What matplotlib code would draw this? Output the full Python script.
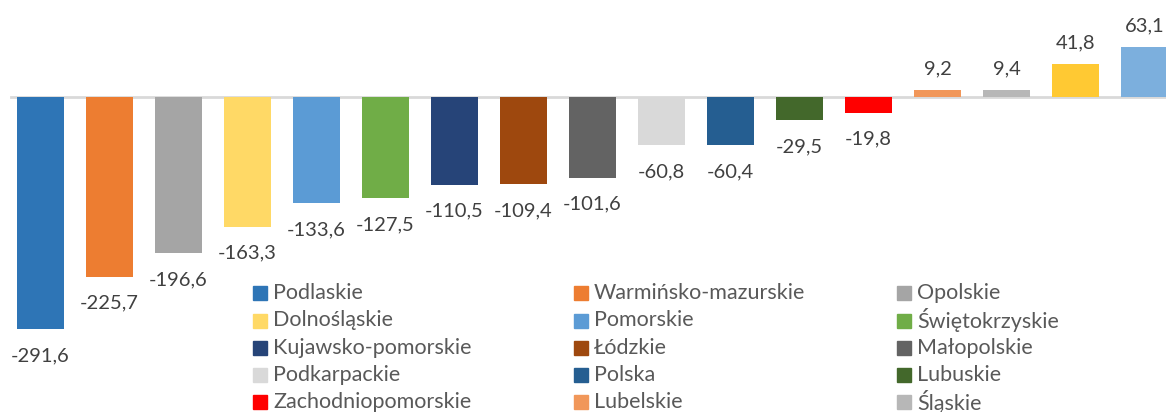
import matplotlib.pyplot as plt
from matplotlib.patches import Rectangle

plt.rcParams['font.family'] = ['Lato', 'DejaVu Sans']

regions = ["Podlaskie", "Warmińsko-mazurskie", "Opolskie", "Dolnośląskie",
           "Pomorskie", "Świętokrzyskie", "Kujawsko-pomorskie", "Łódzkie",
           "Małopolskie", "Podkarpackie", "Polska", "Lubuskie",
           "Zachodniopomorskie", "Lubelskie", "Śląskie", "Wielkopolskie",
           "Mazowieckie"]
values = [-291.6, -225.7, -196.6, -163.3, -133.6, -127.5, -110.5, -109.4,
          -101.6, -60.8, -60.4, -29.5, -19.8, 9.2, 9.4, 41.8, 63.1]
colors = ["#2E75B6", "#ED7D31", "#A5A5A5", "#FFD966", "#5B9BD5", "#70AD47",
          "#264478", "#9E480E", "#636363", "#D9D9D9", "#255E91", "#43682B",
          "#FF0000", "#F1975A", "#B7B7B7", "#FFC933", "#7CAFDD"]

W, H = 1166, 412
fig = plt.figure(figsize=(W / 100, H / 100), dpi=100)
ax = fig.add_axes([0, 0, 1, 1])
ax.axis("off")

x = list(range(len(values)))
ax.bar(x, values, width=0.68, color=colors, zorder=2)
ax.set_xlim(-0.587, 16.31)
ax.set_ylim(-395.9, 121.9)

# zero line
ax.axhline(0, xmin=11 / W, xmax=1, color="#D9D9D9", lw=2, zorder=1)

for xi, v in zip(x, values):
    txt = f"{v:.1f}".replace(".", ",")
    off = -19 if v < 0 else 15
    ax.annotate(txt, (xi, v), xytext=(0, off), textcoords="offset points",
                ha="center", va="center", fontsize=14.5, color="#404040")

# legend, 3 columns, row-major order (last row falls below the figure)
col_x = [253, 574, 897]
row_y = [293, 320.5, 348, 375, 402, 440]
for i, (name, c) in enumerate(zip(regions, colors)):
    r, k = divmod(i, 3)
    px, py = col_x[k], row_y[r]
    fig.add_artist(Rectangle((px / W, 1 - (py + 7) / H), 14 / W, 14 / H,
                             transform=fig.transFigure, color=c))
    fig.text((px + 20) / W, 1 - py / H, name, fontsize=15.5, color="#595959",
             ha="left", va="center")

fig.savefig("out.png", dpi=100)
